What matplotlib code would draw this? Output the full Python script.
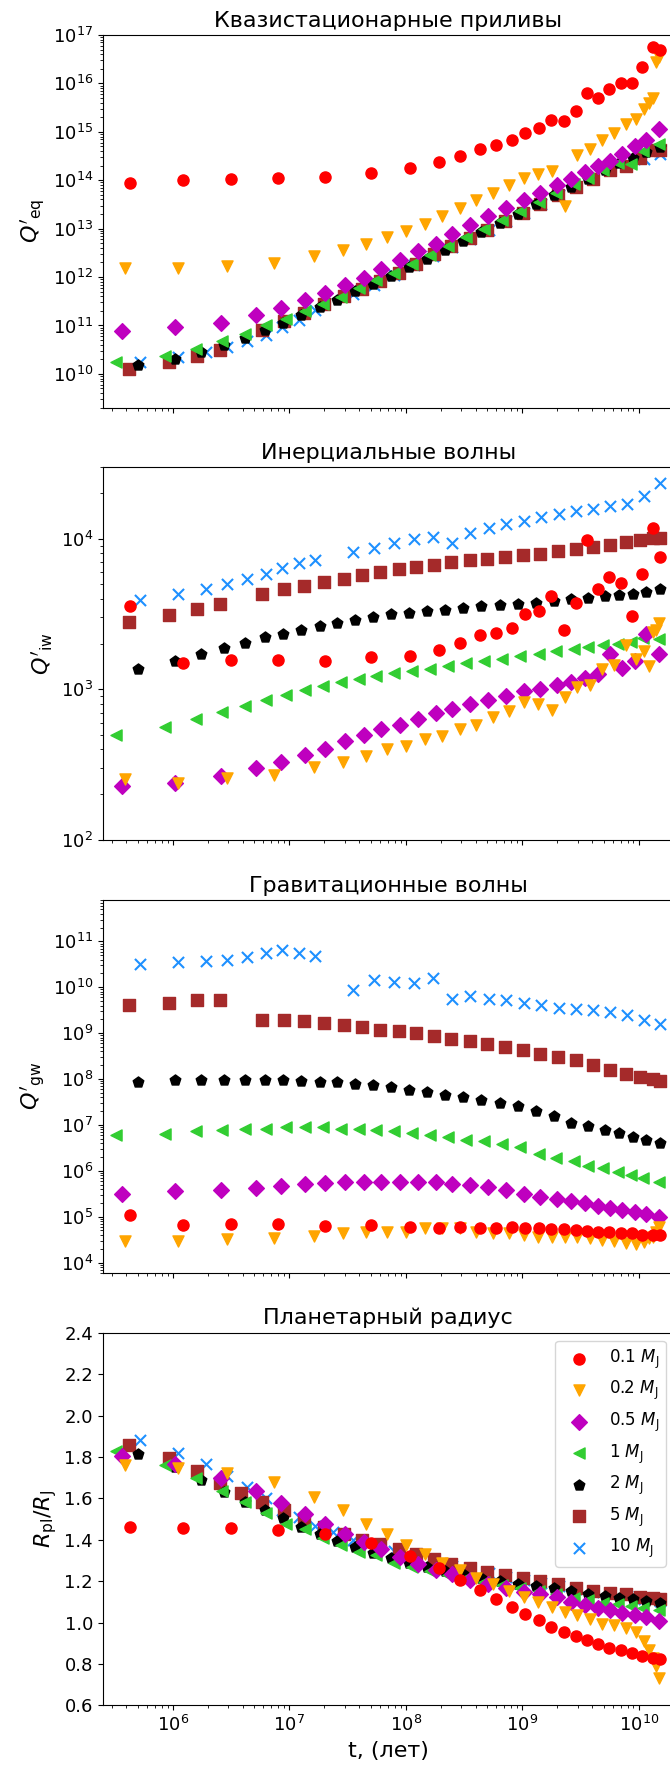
import numpy as np
import matplotlib
import matplotlib.pyplot as plt
from matplotlib.ticker import MultipleLocator

matplotlib.use('agg')

masses = ['0.1', '0.2', '0.5', '1', '2', '5', '10']
colors = ['red', 'orange', 'm', 'limegreen', 'black', 'brown', 'dodgerblue']
markers = ['o', 'v', 'D', '<', 'p', 's', 'x']

nan = np.nan

# log10(age, yr) of the model snapshots for each planet mass
lgt_01 = [5.635, 6.087, 6.502, 6.906, 7.306, 7.704, 8.039, 8.282, 8.468, 8.634, 8.771, 8.909, 9.020,
          9.143, 9.249, 9.355, 9.458, 9.555, 9.652, 9.747, 9.844, 9.938, 10.030, 10.121, 10.179]
lgt_02 = [5.586, 6.044, 6.462, 6.868, 7.215, 7.460, 7.661, 7.838, 8.004, 8.162, 8.313, 8.462, 8.605,
          8.748, 8.885, 9.011, 9.134, 9.254, 9.363, 9.469, 9.578, 9.683, 9.784, 9.887, 9.979, 10.041,
          10.087, 10.121, 10.150, 10.173]
lgt_05 = [5.567, 6.015, 6.416, 6.711, 6.931, 7.131, 7.303, 7.475, 7.638, 7.790, 7.946, 8.104, 8.256,
          8.399, 8.554, 8.705, 8.863, 9.011, 9.155, 9.297, 9.421, 9.535, 9.649, 9.749, 9.858, 9.964,
          10.064, 10.173]
lgt_1 = [5.515, 5.930, 6.202, 6.425, 6.616, 6.797, 6.968, 7.131, 7.288, 7.440, 7.595, 7.747, 7.895,
         8.052, 8.204, 8.359, 8.519, 8.670, 8.828, 8.983, 9.142, 9.292, 9.440, 9.563, 9.692, 9.821,
         9.936, 10.035, 10.173]
lgt_2 = [5.700, 6.015, 6.245, 6.436, 6.616, 6.788, 6.945, 7.103, 7.260, 7.409, 7.563, 7.718, 7.870,
         8.024, 8.181, 8.339, 8.490, 8.648, 8.806, 8.962, 9.114, 9.269, 9.421, 9.563, 9.706, 9.827,
         9.949, 10.058, 10.179]
lgt_5 = [5.623, 5.967, 6.207, 6.408, 6.588, 6.768, 6.951, 7.123, 7.295, 7.466, 7.627, 7.775, 7.941,
         8.090, 8.239, 8.391, 8.548, 8.696, 8.848, 9.005, 9.155, 9.306, 9.458, 9.606, 9.749, 9.887,
         10.013, 10.121, 10.179]
lgt_10 = [5.714, 6.044, 6.282, 6.464, 6.636, 6.797, 6.940, 7.080, 7.223, 7.374, 7.546, 7.724, 7.895,
          8.067, 8.233, 8.399, 8.554, 8.711, 8.863, 9.011, 9.163, 9.314, 9.464, 9.609, 9.755, 9.898,
          10.041, 10.179]

# log10 Q'_eq (equilibrium tide)
lgqeq_01 = [13.944, 14.0, 14.027, 14.041, 14.062, 14.151, 14.262, 14.378, 14.51, 14.635, 14.724, 14.827,
            14.972, 15.082, 15.235, 15.214, 15.434, 15.793, 15.703, 15.883, 16.0, 16.013, 16.331,
            16.745, 16.69]
lgqeq_02 = [12.19, 12.177, 12.23, 12.29, 12.427, 12.55, 12.69, 12.827, 12.951, 13.103, 13.255, 13.427,
            13.586, 13.744, 13.896, 14.048, 14.137, 14.186, 13.475, 14.53, 14.655, 14.827, 14.979,
            15.158, 15.275, 15.48, 15.60, 15.70, 16.45, 16.55]
lgqeq_05 = [10.882, 10.965, 11.061, 11.206, 11.365, 11.516, 11.668, 11.827, 11.986, 12.172, 12.344,
            12.530, 12.689, 12.882, 13.068, 13.255, 13.434, 13.6, 13.744, 13.896, 14.034, 14.172,
            14.289, 14.393, 14.551, 14.703, 14.841, 15.048]
lgqeq_1 = [10.254, 10.379, 10.517, 10.669, 10.827, 11.0, 11.138, 11.289, 11.448, 11.586, 11.779, 11.944,
           12.089, 12.275, 12.455, 12.634, 12.827, 12.999, 13.186, 13.365, 13.551, 13.737, 13.917,
           14.055, 14.206, 14.358, 14.344, 14.606, 14.758]
lgqeq_2 = [10.186, 10.310, 10.448, 10.586, 10.745, 10.896, 11.048, 11.206, 11.379, 11.530, 11.703,
           11.861, 12.013, 12.206, 12.379, 12.565, 12.744, 12.931, 13.117, 13.310, 13.503, 13.689,
           13.862, 14.034, 14.206, 14.358, 14.469, 14.586, 14.689]
lgqeq_5 = [10.103, 10.241, 10.379, 10.496, nan, 10.896, 11.089, 11.255, 11.434, 11.6, 11.758, 11.917,
           12.082, 12.275, 12.468, 12.634, 12.813, 12.965, 13.151, 13.324, 13.517, 13.689, 13.862,
           14.034, 14.206, 14.289, 14.468, 14.620, 14.620]
lgqeq_10 = [10.241, 10.344, 10.448, 10.565, 10.689, 10.813, 10.965, 11.117, 11.324, nan, 11.655, 11.827,
            12.034, 12.241, 12.427, 12.62, 12.792, 12.979, 13.158, 13.324, 13.503, 13.689, 13.862,
            14.034, 14.206, 14.379, 14.448, 14.538]

# log10 Q'_iw (inertial waves)
lgqiw_01 = [3.554, 3.175, 3.197, 3.197, 3.186, 3.215, 3.220, 3.259, 3.308, 3.359, 3.377, 3.404, 3.497,
            3.519, 3.619, 3.392, 3.576, 3.991, 3.663, 3.747, 3.707, 3.486, 3.769, 4.073, 3.880]
lgqiw_02 = [2.401, 2.379, 2.410, 2.428, 2.483, 2.517, 2.557, 2.601, 2.623, 2.667, 2.690, 2.734, 2.765,
            2.816, 2.854, 2.916, 2.905, 2.860, 2.95, 3.016, 3.027, 3.133, 3.164, 3.297, 3.204, 3.253,
            3.155, 3.381, 3.392, 3.443]
lgqiw_05 = [2.357, 2.379, 2.421, 2.477, 2.517, 2.565, 2.605, 2.654, 2.694, 2.738, 2.765, 2.800, 2.845,
            2.871, 2.905, 2.927, 2.953, 2.987, 3.004, 3.031, 3.049, 3.075, 3.098, 3.231, 3.142, 3.186,
            3.364, 3.231]
lgqiw_1 = [2.694, 2.749, 2.80, 2.849, 2.889, 2.927, 2.965, 2.993, 3.022, 3.049, 3.067, 3.086, 3.109,
           3.124, 3.137, 3.155, 3.175, 3.188, 3.204, 3.222, 3.237, 3.253, 3.266, 3.279, 3.297, 3.304,
           3.315, 3.341, 3.337]
lgqiw_2 = [3.137, 3.188, 3.237, 3.277, 3.310, 3.344, 3.370, 3.397, 3.421, 3.443, 3.463, 3.481, 3.497,
           3.510, 3.521, 3.530, 3.543, 3.552, 3.559, 3.565, 3.576, 3.585, 3.599, 3.608, 3.619, 3.625,
           3.636, 3.647, 3.665]
lgqiw_5 = [3.448, 3.492, 3.532, 3.568, nan, 3.630, 3.663, 3.685, 3.714, 3.736, 3.758, 3.776, 3.798,
           3.812, 3.829, 3.843, 3.856, 3.865, 3.880, 3.891, 3.902, 3.918, 3.931, 3.947, 3.958, 3.976,
           3.989, 4.002, 4.007]
lgqiw_10 = [3.596, 3.630, 3.665, 3.698, 3.736, 3.769, 3.807, 3.836, 3.858, nan, 3.914, 3.940, 3.973,
            3.996, 4.013, 3.973, 4.040, 4.069, 4.098, 4.118, 4.142, 4.164, 4.184, 4.197, 4.217, 4.231,
            4.284, 4.368]

# log10 Q'_gw (gravity waves)
lgqgw_01 = [5.039, 4.821, 4.843, 4.843, 4.807, 4.821, 4.771, 4.763, 4.771, 4.763, 4.763, 4.771, 4.749,
            4.749, 4.734, 4.734, 4.712, 4.698, 4.676, 4.662, 4.654, 4.640, 4.603, 4.603, 4.603]
lgqgw_02 = [4.472, 4.472, 4.516, 4.530, 4.581, 4.640, 4.661, 4.676, 4.676, 4.763, 4.749, 4.749, 4.676,
            4.640, 4.640, 4.603, 4.567, 4.567, 4.567, 4.567, 4.530, 4.494, 4.472, 4.422, 4.400, 4.458,
            4.530, 4.567, 4.676, 4.785]
lgqgw_05 = [5.497, 5.563, 5.585, 5.621, 5.672, 5.708, 5.730, 5.752, 5.752, 5.752, 5.752, 5.752, 5.752,
            5.716, 5.694, 5.650, 5.577, 5.490, 5.439, 5.388, 5.344, 5.294, 5.243, 5.199, 5.148, 5.112,
            5.054, 4.996]
lgqgw_1 = [6.784, 6.806, 6.857, 6.893, 6.908, 6.908, 6.944, 6.944, 6.944, 6.915, 6.908, 6.886, 6.857,
           6.820, 6.784, 6.726, 6.675, 6.639, 6.581, 6.508, 6.362, 6.275, 6.203, 6.115, 6.057, 5.984,
           5.912, 5.839, 5.752]
lgqgw_2 = [7.933, 7.969, 7.969, 7.976, 7.984, 7.976, 7.969, 7.962, 7.933, 7.925, 7.896, 7.860, 7.816,
           7.765, 7.714, 7.656, 7.605, 7.547, 7.474, 7.402, 7.307, 7.205, 7.052, 6.979, 6.893, 6.820,
           6.733, 6.667, 6.595]
lgqgw_5 = [9.604, 9.655, 9.728, 9.728, nan, 9.277, 9.277, 9.256, 9.219, 9.168, 9.139, 9.074, 9.037,
           9.001, 8.943, 8.877, 8.819, 8.761, 8.696, 8.630, 8.550, 8.485, 8.420, 8.311, 8.202, 8.114,
           8.034, 8.005, 7.962]
lgqgw_10 = [10.506, 10.542, 10.578, 10.600, 10.666, 10.746, 10.804, 10.753, 10.688, nan, 9.932, 10.164,
            10.106, 10.092, 10.201, 9.750, 9.801, 9.750, 9.714, 9.656, 9.605, 9.547, 9.525, 9.496,
            9.452, 9.401, 9.292, 9.197]

# planet radius in Jupiter radii
rpl_01 = [1.463, 1.458, 1.455, 1.445, 1.426, 1.386, 1.320, 1.262, 1.205, 1.157, 1.112, 1.075, 1.043,
          1.011, 0.978, 0.956, 0.935, 0.914, 0.898, 0.879, 0.866, 0.854, 0.838, 0.827, 0.822]
rpl_02 = [1.761, 1.748, 1.724, 1.679, 1.606, 1.542, 1.478, 1.426, 1.375, 1.329, 1.288, 1.252, 1.217,
          1.185, 1.152, 1.123, 1.101, 1.075, 1.053, 1.036, 1.017, 0.995, 0.988, 0.972, 0.956, 0.911,
          0.866, 0.830, 0.790, 0.734]
rpl_05 = [1.804, 1.767, 1.697, 1.635, 1.576, 1.523, 1.474, 1.426, 1.391, 1.354, 1.317, 1.284, 1.252,
          1.233, 1.204, 1.185, 1.165, 1.149, 1.136, 1.123, 1.101, 1.085, 1.069, 1.059, 1.048, 1.036,
          1.027, 1.007]
rpl_1 = [1.829, 1.761, 1.697, 1.635, 1.584, 1.531, 1.474, 1.45, 1.407, 1.375, 1.342, 1.325, 1.289,
         1.268, 1.249, 1.230, 1.214, 1.197, 1.181, 1.168, 1.152, 1.136, 1.120, 1.107, 1.096, 1.088,
         1.080, 1.072, 1.059]
rpl_2 = [1.816, 1.751, 1.687, 1.632, 1.584, 1.542, 1.503, 1.463, 1.426, 1.394, 1.365, 1.337, 1.313,
         1.289, 1.268, 1.249, 1.233, 1.217, 1.201, 1.188, 1.176, 1.165, 1.152, 1.139, 1.128, 1.120,
         1.112, 1.104, 1.096]
rpl_5 = [1.858, 1.793, 1.732, 1.676, 1.627, 1.584, 1.542, 1.499, 1.462, 1.429, 1.399, 1.378, 1.354,
         1.329, 1.305, 1.284, 1.265, 1.246, 1.230, 1.214, 1.201, 1.185, 1.168, 1.152, 1.143, 1.136,
         1.123, 1.117, 1.112]
rpl_10 = [1.880, 1.821, 1.767, 1.708, 1.655, 1.603, 1.542, 1.510, 1.466, 1.439, 1.400, 1.370, 1.345,
          1.32, 1.295, 1.275, 1.255, 1.238, 1.222, 1.207, 1.193, 1.178, 1.163, 1.150, 1.138, 1.126,
          1.115, 1.105]

ages = [lgt_01, lgt_02, lgt_05, lgt_1, lgt_2, lgt_5, lgt_10]
qeq = [lgqeq_01, lgqeq_02, lgqeq_05, lgqeq_1, lgqeq_2, lgqeq_5, lgqeq_10]
qiw = [lgqiw_01, lgqiw_02, lgqiw_05, lgqiw_1, lgqiw_2, lgqiw_5, lgqiw_10]
qgw = [lgqgw_01, lgqgw_02, lgqgw_05, lgqgw_1, lgqgw_2, lgqgw_5, lgqgw_10]
rpl = [rpl_01, rpl_02, rpl_05, rpl_1, rpl_2, rpl_5, rpl_10]

titles = ['Квазистационарные приливы', 'Инерциальные волны',
          'Гравитационные волны', 'Планетарный радиус']
ylabels = [r"$Q'_{\rm eq}$", r"$Q'_{\rm iw}$", r"$Q'_{\rm gw}$", r'$R_{\rm pl}/R_{\rm J}$']
ylims = [(2e9, 1e17), (1e2, 3e4), (6e3, 8e11), (0.6, 2.4)]

W, H = 670, 1767
fig = plt.figure(figsize=(W/100, H/100), dpi=100)

axtops = [35, 467, 900, 1332.7]
axh = 372.7
axes = []
for top in axtops:
    ax = fig.add_axes([102.7/W, 1 - (top + axh)/H, 571.2/W, axh/H])
    axes.append(ax)

panels = [qeq, qiw, qgw, rpl]

for k, ax in enumerate(axes):
    for i in range(len(masses)):
        t = 10**np.array(ages[i])
        y = np.array(panels[k][i], dtype=float)
        if k < 3:
            y = 10**y
        ax.scatter(t, y, s=64, c=colors[i], marker=markers[i],
                   label=masses[i] + r' $M_{\rm J}$', zorder=10 - i)

    ax.set_xscale('log')
    ax.set_xlim(2.5e5, 2e10)
    if k < 3:
        ax.set_yscale('log')
        ax.tick_params(labelbottom=False)
    else:
        ax.yaxis.set_major_locator(MultipleLocator(0.2))
    ax.set_ylim(*ylims[k])
    ax.set_title(titles[k], fontsize=16)
    ax.set_ylabel(ylabels[k], fontsize=16)
    ax.tick_params(labelsize=13)

axes[3].set_xlabel('t, (лет)', fontsize=16)
axes[3].legend(loc='upper right', fontsize=12)

fig.savefig('out.png', dpi=100)
